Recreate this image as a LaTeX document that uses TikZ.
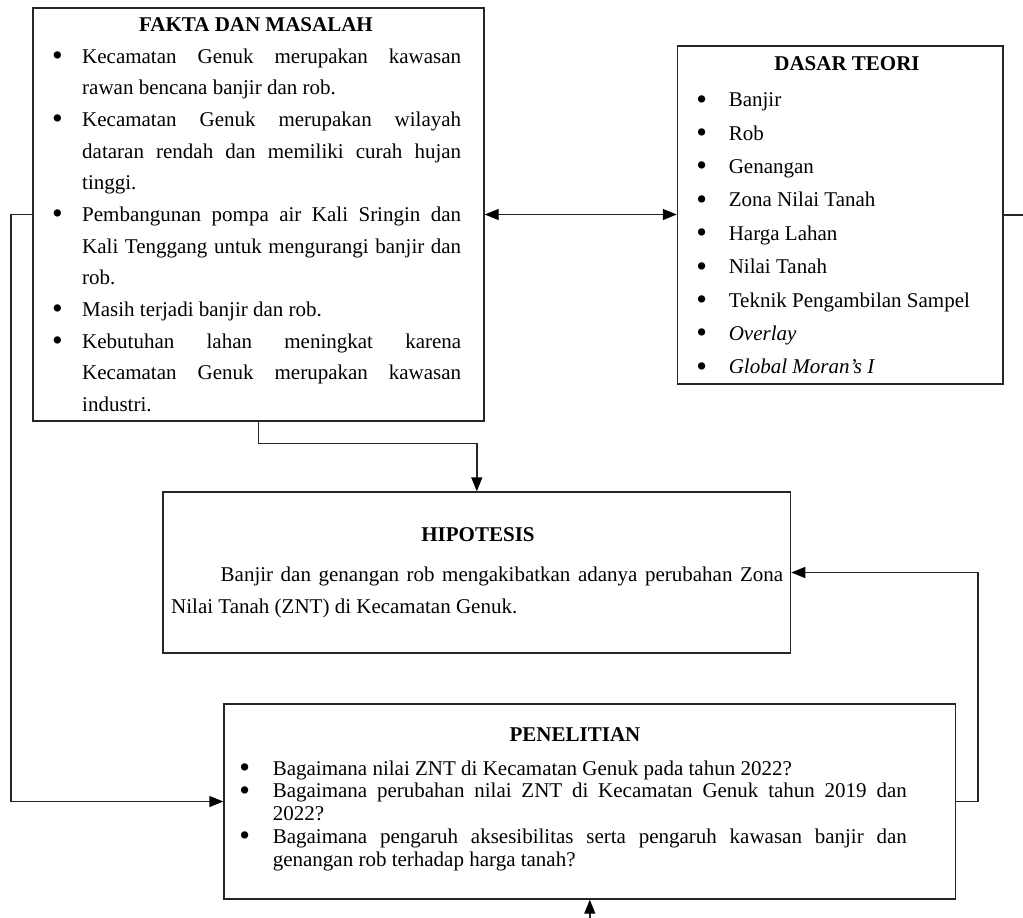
\documentclass[tikz,border=0pt]{standalone}
\usepackage{fontspec}
\setmainfont{Liberation Serif}
\usetikzlibrary{arrows.meta}
\newcommand{\bul}[1]{\noindent\llap{\raisebox{-2.3pt}{\scalebox{1.45}{\textbullet}}\hspace{#1}}}
\tikzset{
  box/.style={draw=black!85, line width=1.4pt, rectangle, inner sep=0pt},
  conn/.style={draw=black!85, line width=1.4pt},
  arr/.style={conn, -{Triangle[length=14pt,width=11pt,fill=black,color=black]}},
  darr/.style={conn, {Triangle[length=14pt,width=11pt,fill=black,color=black]}-{Triangle[length=14pt,width=11pt,fill=black,color=black]}},
  ttl/.style={inner sep=0pt, anchor=base, font=\fontsize{21}{25}\selectfont\bfseries},
  txt/.style={inner sep=0pt, anchor=base west}
}
\begin{document}
\begin{tikzpicture}[x=1pt,y=-1pt]
\useasboundingbox (0,0) rectangle (1023,918);
% boxes
\node[box, minimum width=451pt, minimum height=413pt] (fakta) at (258.5,214.5) {};
\node[box, minimum width=325.5pt, minimum height=338pt] (dasar) at (840.25,215) {};
\node[box, minimum width=627.6pt, minimum height=161pt] (hipotesis) at (476.8,572.5) {};
\node[box, minimum width=731.6pt, minimum height=195pt] (penelitian) at (589.8,801.5) {};
% titles
\node[ttl] (t1) at (256,31) {FAKTA DAN MASALAH};
\node[ttl] (t2) at (847,70.7) {DASAR TEORI};
\node[ttl] (t3) at (478,541.7) {HIPOTESIS};
\node[ttl] (t4) at (575,741.7) {PENELITIAN};
% fakta text
\node[txt] (ftext) at (82,63) {\begin{minipage}[t]{379pt}\fontsize{21}{31.7}\selectfont
\tolerance=10000\hyphenpenalty=10000\parskip=0pt
\bul{19.5pt}Kecamatan Genuk merupakan kawasan\linebreak rawan bencana banjir dan rob.\par
\bul{19.5pt}Kecamatan Genuk merupakan wilayah\linebreak dataran rendah dan memiliki curah hujan\linebreak tinggi.\par
\bul{19.5pt}Pembangunan pompa air Kali Sringin dan\linebreak Kali Tenggang untuk mengurangi banjir dan\linebreak rob.\par
\bul{19.5pt}Masih terjadi banjir dan rob.\par
\bul{19.5pt}Kebutuhan lahan meningkat karena\linebreak Kecamatan Genuk merupakan kawasan\linebreak industri.\par
\end{minipage}};
% dasar text
\node[txt] (dtext) at (728.6,106.7) {\begin{minipage}[t]{260pt}\fontsize{21}{33.4}\selectfont
\raggedright\parskip=0pt
\bul{21.7pt}Banjir\par
\bul{21.7pt}Rob\par
\bul{21.7pt}Genangan\par
\bul{21.7pt}Zona Nilai Tanah\par
\bul{21.7pt}Harga Lahan\par
\bul{21.7pt}Nilai Tanah\par
\bul{21.7pt}Teknik Pengambilan Sampel\par
\bul{21.7pt}\textit{Overlay}\par
\bul{21.7pt}\textit{Global Moran’s I}\par
\end{minipage}};
% hipotesis text
\node[txt] (htext) at (171,581.7) {\begin{minipage}[t]{612pt}\fontsize{21}{31.5}\selectfont
\tolerance=10000\hyphenpenalty=10000\parskip=0pt\parindent=49.5pt
Banjir dan genangan rob mengakibatkan adanya perubahan Zona\linebreak Nilai Tanah (ZNT) di Kecamatan Genuk.\par
\end{minipage}};
% penelitian text
\node[txt] (ptext) at (272.6,775) {\begin{minipage}[t]{634pt}\fontsize{21}{22.8}\selectfont
\tolerance=10000\hyphenpenalty=10000\parskip=0pt
\bul{22.7pt}Bagaimana nilai ZNT di Kecamatan Genuk pada tahun 2022?\par
\bul{22.7pt}Bagaimana perubahan nilai ZNT di Kecamatan Genuk tahun 2019 dan\linebreak 2022?\par
\bul{22.7pt}Bagaimana pengaruh aksesibilitas serta pengaruh kawasan banjir dan\linebreak genangan rob terhadap harga tanah?\par
\end{minipage}};
% connectors
\draw[darr] (fakta.east) -- (fakta.east -| dasar.west);
\coordinate (rend) at (1023,215);
\draw[conn] (dasar.east) -- (rend);
\draw[arr] (fakta.west) -- ++(-21.5,0) |- (penelitian.west);
\draw[arr] (fakta.south) -- ++(0,22) -| (hipotesis.north);
\draw[arr] (penelitian.east) -- ++(21.5,0) |- (hipotesis.east);
\coordinate (bot) at (589.8,918);
\draw[arr] (bot) -- (penelitian.south);
\end{tikzpicture}
\end{document}
